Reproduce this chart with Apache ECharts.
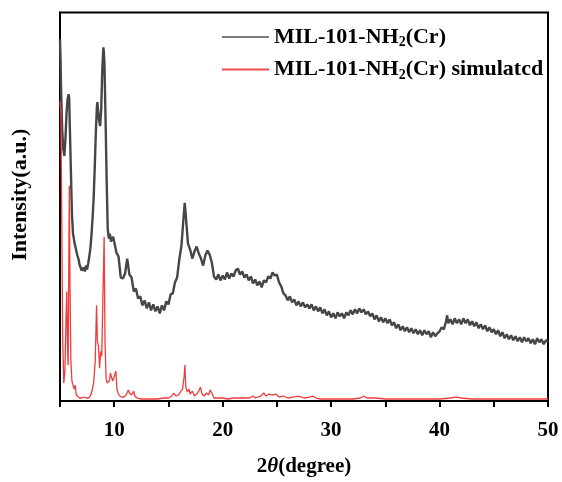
<!DOCTYPE html>
<html>
<head>
<meta charset="utf-8">
<script src="https://cdn.jsdelivr.net/npm/echarts@6/dist/echarts.min.js"></script>
<style>html,body{margin:0;padding:0;background:#fff}#c{width:562px;height:482px}</style>
</head>
<body>
<div id="c"></div>
<script>
const seriesNames = ['MIL-101-NH2(Cr)', 'MIL-101-NH2(Cr) simulatcd'];
const xTicks = [5, 10, 15, 20, 25, 30, 35, 40, 45, 50];

// experimental pattern: [2theta, intensity]
const measured = [
[5.00,363],[5.05,343],[5.10,313],[5.20,273],[5.30,253],[5.40,246],[5.50,263],[5.60,288],[5.70,303],[5.80,308],[5.85,303],[5.90,278],
[6.00,233],[6.10,188],[6.20,168],[6.35,158],[6.50,151],[6.60,146],[6.70,143],[6.80,137],[6.90,135],[7.00,131],[7.10,129],[7.20,134],
[7.30,130],[7.40,136],[7.50,132],[7.60,138],[7.70,145],[7.80,153],[7.90,166],[8.00,183],[8.10,203],[8.20,233],[8.30,268],[8.40,295],
[8.45,300],[8.50,293],[8.60,282],[8.70,276],[8.80,293],[8.90,333],[9.00,355],[9.05,350],[9.10,338],[9.20,283],[9.30,223],[9.40,173],
[9.50,163],[9.60,168],[9.70,160],[9.80,158],[9.90,165],
[10.0,166],[10.2,149],[10.4,145],[10.6,124],[10.8,123],[11.0,128],[11.2,143],[11.4,127],[11.6,124],[11.8,110],
[12.0,113],[12.2,103],[12.4,105],[12.6,96],[12.8,101],[13.0,93],[13.2,99],[13.4,91],[13.6,97],[13.8,90],
[14.0,95],[14.2,88],[14.4,96],[14.6,91],[14.8,100],[15.0,97],[15.2,107],[15.4,108],[15.6,119],[15.8,124],
[16.0,142],[16.2,156],[16.4,185],[16.5,199],[16.6,186],[16.8,158],[17.0,152],[17.2,143],[17.4,150],[17.6,155],[17.8,148],
[18.0,143],[18.2,136],[18.4,146],[18.6,151],[18.8,147],[19.0,139],[19.2,125],[19.4,122],[19.6,127],[19.8,121],
[20.0,126],[20.2,122],[20.4,129],[20.6,123],[20.8,128],[21.0,125],[21.2,131],[21.4,133],[21.6,127],[21.8,130],
[22.0,124],[22.2,127],[22.4,121],[22.6,125],[22.8,118],[23.0,122],[23.2,116],[23.4,120],[23.6,114],[23.8,121],
[24.0,119],[24.2,125],[24.4,123],[24.6,129],[24.8,126],[25.0,127],[25.2,119],[25.4,115],[25.6,108],[25.8,106],
[26.0,101],[26.2,105],[26.4,99],[26.6,102],[26.8,96],[27.0,100],[27.2,95],[27.4,99],[27.6,94],[27.8,97],
[28.0,93],[28.2,97],[28.4,91],[28.6,95],[28.8,90],[29.0,94],[29.2,88],[29.4,92],[29.6,86],[29.8,90],
[30.0,84],[30.2,88],[30.4,83],[30.6,89],[30.8,85],[31.0,88],[31.2,83],[31.4,89],[31.6,86],[31.8,91],
[32.0,87],[32.2,92],[32.4,88],[32.6,93],[32.8,89],[33.0,92],[33.2,87],[33.4,90],[33.6,85],[33.8,88],
[34.0,82],[34.2,86],[34.4,80],[34.6,84],[34.8,79],[35.0,83],[35.2,78],[35.4,82],[35.6,76],[35.8,79],
[36.0,73],[36.2,77],[36.4,71],[36.6,75],[36.8,70],[37.0,74],[37.2,69],[37.4,73],[37.6,68],[37.8,72],
[38.0,67],[38.2,71],[38.4,66],[38.6,71],[38.8,67],[39.0,70],[39.2,64],[39.4,69],[39.6,65],[39.8,68],
[40.0,70],[40.2,74],[40.4,72],[40.6,80],[40.7,86],[40.8,78],[41.0,82],[41.2,77],[41.4,83],[41.6,78],[41.8,82],
[42.0,77],[42.2,83],[42.4,78],[42.6,82],[42.8,76],[43.0,80],[43.2,75],[43.4,79],[43.6,73],[43.8,77],
[44.0,72],[44.2,76],[44.4,70],[44.6,74],[44.8,69],[45.0,72],[45.2,67],[45.4,71],[45.6,65],[45.8,69],
[46.0,63],[46.2,67],[46.4,62],[46.6,66],[46.8,61],[47.0,65],[47.2,60],[47.4,64],[47.6,59],[47.8,64],
[48.0,60],[48.2,63],[48.4,58],[48.6,62],[48.8,57],[49.0,63],[49.2,59],[49.4,62],[49.6,57],[49.8,61],[50.0,59]
];

// simulated pattern: [2theta, intensity]
const simulated = [
[5.00,301],[5.08,290],[5.15,200],[5.25,60],[5.35,18],[5.45,30],[5.55,80],[5.62,110],[5.70,50],[5.75,36],[5.80,120],[5.86,216],
[5.92,120],[6.00,40],[6.10,20],[6.20,21],[6.30,12],[6.40,16],[6.50,6],[6.60,4],[6.80,3],[7.00,3],[7.20,4],[7.40,3],[7.60,3],
[7.80,5],[7.95,10],[8.10,18],[8.25,40],[8.37,96],[8.45,60],[8.55,55],[8.65,33],[8.75,50],[8.85,45],[8.95,100],[9.07,165],
[9.15,60],[9.25,23],[9.35,18],[9.45,16],[9.55,20],[9.65,28],[9.75,30],[9.85,20],[9.95,23],[10.05,25],[10.15,30],[10.25,12],
[10.35,8],[10.5,5],[10.7,4],[10.9,4],[11.1,6],[11.3,11],[11.4,8],[11.6,6],[11.8,10],[11.9,5],[12.1,3],[12.5,2],[13.0,2],
[13.5,2],[14.0,2],[14.5,3],[15.0,3],[15.3,5],[15.5,8],[15.7,5],[15.9,6],[16.1,9],[16.3,12],[16.45,25],[16.52,36],[16.6,14],
[16.75,9],[16.9,12],[17.0,7],[17.2,10],[17.4,5],[17.6,7],[17.8,10],[17.95,14],[18.1,7],[18.3,5],[18.5,8],[18.7,6],[18.85,11],
[19.0,8],[19.2,3],[19.5,3],[20.0,3],[20.5,2],[21.0,3],[21.5,3],[22.0,3],[22.5,3],[22.8,5],[23.0,3],[23.5,5],[23.8,8],[24.0,5],
[24.3,7],[24.6,6],[24.9,7],[25.2,4],[25.6,5],[26.0,3],[26.5,4],[27.0,5],[27.5,3],[28.0,4],[28.3,5],[28.6,3],[29.0,2],[30.0,2],
[31.0,2],[32.0,2],[32.7,3],[33.0,5],[33.3,3],[34.0,3],[35.0,2],[36.0,2],[37.0,2],[38.0,2],[39.0,2],[40.0,2],[41.0,3],[41.5,4],
[42.0,3],[43.0,2],[44.0,2],[45.0,2],[46.0,2],[47.0,2],[48.0,2],[49.0,2],[50.0,2]
];

const FONT = '"Liberation Serif","Times New Roman",serif';
const chart = echarts.init(document.getElementById('c'), null, {renderer: 'canvas'});
chart.setOption({
  animation: false,
  backgroundColor: '#fff',
  grid: {left: 60, right: 14, top: 12.5, bottom: 79, show: true, borderColor: '#000', borderWidth: 2, containLabel: false},
  legend: {
    orient: 'vertical', left: 217, top: 21, itemWidth: 47, itemHeight: 2, itemGap: 9, icon: 'rect',
    data: [
      {name: seriesNames[0], itemStyle: {color: '#7a7a7a'}},
      {name: seriesNames[1], itemStyle: {color: '#f04a4a'}}
    ],
    formatter: function (n) {
      return n === seriesNames[0] ? '{a|MIL-101-NH}{s|2}{a|(Cr)}' : '{a|MIL-101-NH}{s|2}{a|(Cr) simulatcd}';
    },
    textStyle: {
      rich: {
        a: {fontFamily: FONT, fontWeight: 'bold', fontSize: 22, color: '#000'},
        s: {fontFamily: FONT, fontWeight: 'bold', fontSize: 14, color: '#000', padding: [11, 0, 0, 0]}
      }
    }
  },
  xAxis: {
    type: 'value', min: xTicks[0], max: xTicks[xTicks.length - 1], interval: 5,
    axisLine: {show: true, lineStyle: {color: '#000', width: 2}},
    axisTick: {show: true, inside: false, length: 6, lineStyle: {color: '#000', width: 2}},
    splitLine: {show: false},
    axisLabel: {
      margin: 19, color: '#000', fontFamily: FONT, fontWeight: 'bold', fontSize: 21,
      formatter: function (v) { return v % 10 === 0 ? String(v) : ''; }
    },
    name: '{b|2}{i|θ}{b|(degree)}', nameLocation: 'middle', nameGap: 55,
    nameTextStyle: {
      rich: {
        b: {fontFamily: FONT, fontWeight: 'bold', fontSize: 21, color: '#000'},
        i: {fontFamily: FONT, fontWeight: 'bold', fontStyle: 'italic', fontSize: 21, color: '#000'}
      }
    }
  },
  yAxis: {
    type: 'value', min: 0, max: 390,
    axisLine: {show: true, lineStyle: {color: '#000', width: 2}},
    axisTick: {show: false}, axisLabel: {show: false}, splitLine: {show: false},
    name: 'Intensity(a.u.)', nameLocation: 'middle', nameGap: 29,
    nameTextStyle: {fontFamily: FONT, fontWeight: 'bold', fontSize: 22, color: '#000', padding: [0, 0, 0, 24]}
  },
  series: [
    {name: seriesNames[0], type: 'line', data: measured, symbol: 'none', lineStyle: {color: '#464646', width: 2.4}, itemStyle: {color: '#464646'}, z: 2},
    {name: seriesNames[1], type: 'line', data: simulated, symbol: 'none', lineStyle: {color: '#f03c3c', width: 1.3}, itemStyle: {color: '#f03c3c'}, z: 3}
  ]
});
</script>
</body>
</html>
